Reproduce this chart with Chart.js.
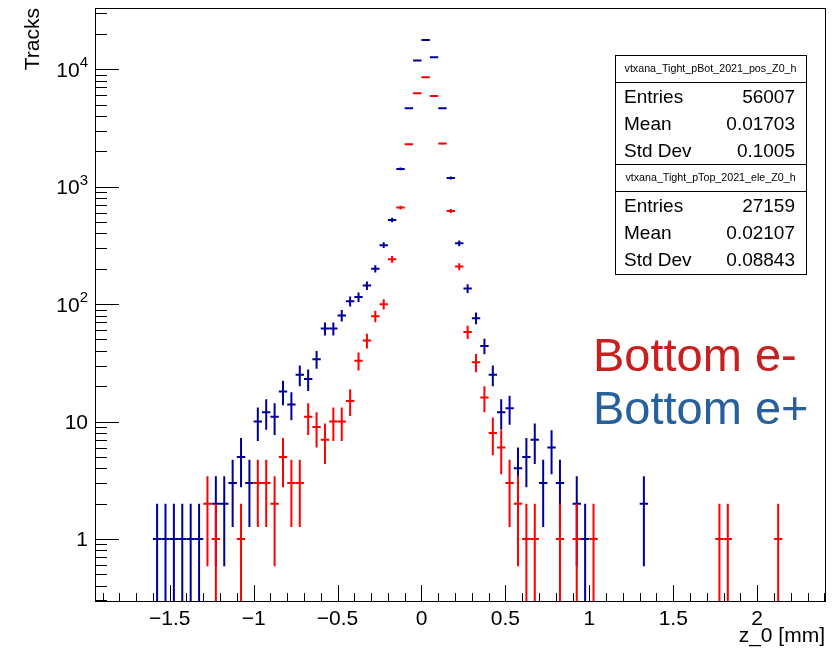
<!DOCTYPE html>
<html><head><meta charset="utf-8">
<script src="https://cdn.jsdelivr.net/npm/chart.js@4/dist/chart.umd.min.js"></script>
<style>html,body{margin:0;padding:0;background:#fff;}canvas{display:block;}</style>
</head><body>
<canvas id="c" width="836" height="650"></canvas>
<script>
// ---- data (bin centres in mm, counts) ----
const blueX = [-1.575,-1.525,-1.475,-1.425,-1.375,-1.325,-1.225,-1.175,-1.125,-1.075,-1.025,-0.975,-0.925,-0.875,-0.825,-0.775,-0.725,-0.675,-0.625,-0.575,-0.525,-0.475,-0.425,-0.375,-0.325,-0.275,-0.225,-0.175,-0.125,-0.075,-0.025,0.025,0.075,0.125,0.175,0.225,0.275,0.325,0.375,0.425,0.475,0.525,0.575,0.625,0.675,0.725,0.775,0.825,0.925,0.975,1.325];
const blueY = [1,1,1,1,1,1,2,2,3,5,3,10,12,11,18,14,25,23,34,62,62,80,106,115,144,200,318,521,1419,4660,11860,17800,12680,4660,1188,330,136,76,44,25,12,13,4,5,7,3,6,3,2,1,2];
const redX = [-1.275,-1.225,-1.075,-0.975,-0.925,-0.875,-0.825,-0.775,-0.725,-0.675,-0.625,-0.575,-0.525,-0.475,-0.425,-0.375,-0.325,-0.275,-0.225,-0.175,-0.125,-0.075,-0.025,0.025,0.075,0.125,0.175,0.225,0.275,0.325,0.375,0.425,0.475,0.525,0.575,0.625,0.675,0.825,0.925,1.025,1.775,1.825,2.125];
const redY = [2,1,1,3,3,2,5,3,3,11,9,7,10,10,15,33,49,79,100,241,664,2300,6260,8570,5930,2330,622,209,58,32,16,8,6,3,2,1,1,1,1,1,1,1,1];
const binHalfWidth = 0.025;

const xTickValues = [-1.5,-1,-0.5,0,0.5,1,1.5,2];
const xTickLabels = ['\u22121.5','\u22121','\u22120.5','0','0.5','1','1.5','2'];
const yTickValues = [1,10,100,1000,10000];
const yTickBase = ['1','10','10','10','10'];
const yTickExp = ['','','2','3','4'];

const statTitles = ['vtxana_Tight_pBot_2021_pos_Z0_h','vtxana_Tight_pTop_2021_ele_Z0_h'];
const statNames = ['Entries','Mean','Std Dev'];
const statValuesPos = ['56007','0.01703','0.1005'];
const statValuesEle = ['27159','0.02107','0.08843'];
const legendTexts = ['Bottom e-','Bottom e+'];

const RED = '#ff0000', BLUE = '#000099';
const FONT = 'Liberation Sans, Arial, Helvetica, sans-serif';

const rootStyle = {
  id: 'rootStyle',
  beforeDraw(chart) {
    const c = chart.ctx; c.save(); c.fillStyle = '#fff'; c.fillRect(0,0,chart.width,chart.height); c.restore();
  },
  afterDatasetsDraw(chart) {
    const c = chart.ctx, xs = chart.scales.x, ys = chart.scales.y, a = chart.chartArea;
    c.save();
    c.beginPath(); c.rect(a.left, a.top, a.right-a.left, a.bottom-a.top); c.clip();
    c.lineWidth = 2;
    chart.data.datasets.forEach(ds => {
      c.strokeStyle = ds.borderColor;
      ds.data.forEach(p => {
        const err = Math.sqrt(p.y);
        const px = xs.getPixelForValue(p.x), py = ys.getPixelForValue(p.y);
        const x0 = xs.getPixelForValue(p.x - binHalfWidth), x1 = xs.getPixelForValue(p.x + binHalfWidth);
        const lo = p.y - err > 0 ? ys.getPixelForValue(p.y - err) : a.bottom + 5;
        const hi = ys.getPixelForValue(p.y + err);
        c.beginPath();
        c.moveTo(x0, py); c.lineTo(x1, py);
        c.moveTo(px, lo); c.lineTo(px, hi);
        c.stroke();
      });
    });
    c.restore();
  },
  afterDraw(chart) {
    const c = chart.ctx, xs = chart.scales.x, ys = chart.scales.y, a = chart.chartArea;
    c.save();
    // frame
    c.strokeStyle = '#000'; c.lineWidth = 1;
    c.strokeRect(Math.round(a.left)+0.5, Math.round(a.top)+0.5, Math.round(a.right-a.left), Math.round(a.bottom-a.top));
    // x ticks
    c.beginPath();
    for (let k = -19; k <= 24; k++) {
      const v = k/10; if (v < xs.min || v > xs.max) continue;
      const major = (k % 5 === 0);
      const px = Math.round(xs.getPixelForValue(v)) + 0.5;
      c.moveTo(px, a.bottom); c.lineTo(px, a.bottom - (major ? 16 : 8));
    }
    // y ticks
    for (let e = -1; e <= 4; e++) {
      for (let m = 1; m <= 9; m++) {
        const v = m * Math.pow(10, e);
        if (v < ys.min || v > ys.max) continue;
        const py = Math.round(ys.getPixelForValue(v)) + 0.5;
        c.moveTo(a.left, py); c.lineTo(a.left + (m === 1 ? 24 : 12), py);
      }
    }
    c.stroke();
    // y tick labels with superscripts
    c.fillStyle = '#000'; c.textBaseline = 'alphabetic';
    yTickValues.forEach((v, i) => {
      const py = ys.getPixelForValue(v);
      c.font = '21px ' + FONT;
      const wb = c.measureText(yTickBase[i]).width;
      c.font = '15px ' + FONT;
      const we = yTickExp[i] ? c.measureText(yTickExp[i]).width : 0;
      const right = 88;
      c.font = '21px ' + FONT; c.textAlign = 'left';
      c.fillText(yTickBase[i], right - we - wb, py + 7.5);
      if (yTickExp[i]) { c.font = '15px ' + FONT; c.fillText(yTickExp[i], right - we, py - 2); }
    });
    // stats boxes
    const bx0 = 615, bx1 = 806;
    const boxes = [
      {top: 55, sep: 82, bottom: 164, title: statTitles[0], vals: statValuesPos},
      {top: 164, sep: 191, bottom: 274, title: statTitles[1], vals: statValuesEle}
    ];
    boxes.forEach(b => {
      c.fillStyle = '#fff'; c.fillRect(bx0, b.top, bx1-bx0, b.bottom-b.top);
      c.strokeStyle = '#000'; c.lineWidth = 1;
      c.strokeRect(bx0+0.5, b.top+0.5, bx1-bx0, b.bottom-b.top);
      c.beginPath(); c.moveTo(bx0, b.sep+0.5); c.lineTo(bx1, b.sep+0.5); c.stroke();
      c.fillStyle = '#000';
      c.font = '10.7px ' + FONT; c.textAlign = 'center'; c.textBaseline = 'middle';
      c.fillText(b.title, (bx0+bx1)/2, (b.top + b.sep)/2 + 1);
      c.font = '19px ' + FONT; c.textBaseline = 'alphabetic';
      statNames.forEach((n, j) => {
        const by = b.sep + 21 + j*27.2;
        c.textAlign = 'left'; c.fillText(n, 624, by);
        c.textAlign = 'right'; c.fillText(b.vals[j], 795, by);
      });
    });
    // legend texts
    c.font = '47px ' + FONT; c.textAlign = 'left'; c.textBaseline = 'alphabetic';
    c.fillStyle = '#c8201f'; c.fillText(legendTexts[0], 593, 371);
    c.fillStyle = '#28609c'; c.fillText(legendTexts[1], 593, 424);
    c.restore();
  }
};

new Chart(document.getElementById('c').getContext('2d'), {
  type: 'scatter',
  data: { datasets: [
    { label: 'Bottom e+', data: blueX.map((x, i) => ({x: x, y: blueY[i]})), borderColor: BLUE, backgroundColor: BLUE, pointRadius: 0, showLine: false },
    { label: 'Bottom e-', data: redX.map((x, i) => ({x: x, y: redY[i]})), borderColor: RED, backgroundColor: RED, pointRadius: 0, showLine: false }
  ]},
  options: {
    responsive: false, animation: false, devicePixelRatio: 1,
    layout: { padding: { top: 8, right: 11, left: 0, bottom: 0 } },
    plugins: { legend: { display: false }, tooltip: { enabled: false } },
    scales: {
      x: {
        type: 'linear', position: 'bottom', min: -1.945, max: 2.404,
        grid: { display: false, drawTicks: false }, border: { display: false },
        afterBuildTicks: s => { s.ticks = xTickValues.map(v => ({value: v})); },
        afterFit: s => { s.height = 49; },
        ticks: { autoSkip: false, maxRotation: 0, padding: 6, color: '#000', font: { family: FONT, size: 21 },
                 callback: (v, i) => xTickLabels[i] },
        title: { display: true, text: 'z_0 [mm]', align: 'end', color: '#000', font: { family: FONT, size: 21 }, padding: { top: 0, bottom: 1 } }
      },
      y: {
        type: 'logarithmic', min: 0.2964, max: 33270,
        grid: { display: false, drawTicks: false }, border: { display: false },
        afterBuildTicks: s => { s.ticks = yTickValues.map(v => ({value: v})); },
        afterFit: s => { s.width = 95; },
        ticks: { display: false },
        title: { display: true, text: 'Tracks', align: 'end', color: '#000', font: { family: FONT, size: 21 }, padding: { top: 21, bottom: 0 } }
      }
    }
  },
  plugins: [rootStyle]
});
</script>
</body></html>
